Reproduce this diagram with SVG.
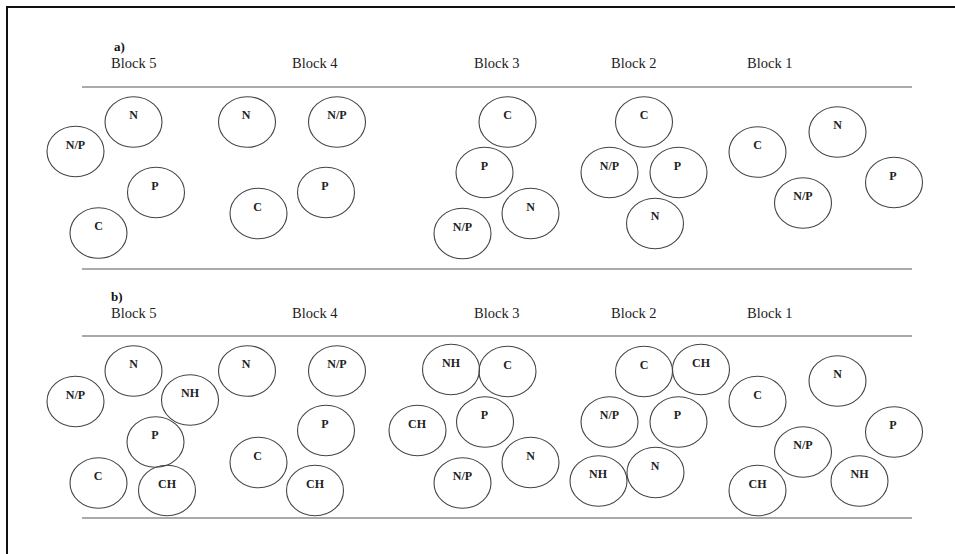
<svg xmlns="http://www.w3.org/2000/svg" width="955" height="554" viewBox="0 0 955 554">
<style>
.frame{stroke:#111;stroke-width:2;fill:none}
.rule{stroke:#aaa;stroke-width:1.8;fill:none}
.hd{font-family:"Liberation Serif","Times New Roman",serif;font-size:14.5px;fill:#222}
.pl{font-family:"Liberation Serif","Times New Roman",serif;font-size:13px;font-weight:bold;fill:#111}
ellipse{fill:none;stroke:#444;stroke-width:1.1}
.lb{font-family:"Liberation Serif","Times New Roman",serif;font-size:12px;fill:#222;text-anchor:middle;font-weight:bold}
</style>
<rect width="955" height="554" fill="#fff"/>
<g id="frame">
<line class="frame" x1="6" y1="7" x2="955" y2="7"/>
<line class="frame" x1="7" y1="6" x2="7" y2="554"/>
</g>
<g id="rules">
<line class="rule" x1="82" y1="87" x2="912" y2="87"/>
<line class="rule" x1="82" y1="269" x2="912" y2="269"/>
<line class="rule" x1="82" y1="336" x2="912" y2="336"/>
<line class="rule" x1="82" y1="518" x2="912" y2="518"/>
</g>
<g id="headings">
<text class="pl" x="114" y="51">a)</text>
<text class="hd" x="111" y="68">Block 5</text>
<text class="hd" x="292" y="68">Block 4</text>
<text class="hd" x="474" y="68">Block 3</text>
<text class="hd" x="611" y="68">Block 2</text>
<text class="hd" x="747" y="68">Block 1</text>
<text class="pl" x="111" y="301">b)</text>
<text class="hd" x="111" y="318">Block 5</text>
<text class="hd" x="292" y="318">Block 4</text>
<text class="hd" x="474" y="318">Block 3</text>
<text class="hd" x="611" y="318">Block 2</text>
<text class="hd" x="747" y="318">Block 1</text>
</g>
<g id="a">
<g id="a5-N"><ellipse cx="133.5" cy="122" rx="28.5" ry="25.3"/><text class="lb" x="133.5" y="119">N</text></g>
<g id="a5-NP"><ellipse cx="75.5" cy="151.5" rx="28.5" ry="25.3"/><text class="lb" x="75.5" y="149">N/P</text></g>
<g id="a5-P"><ellipse cx="156" cy="192.5" rx="28.5" ry="25.3"/><text class="lb" x="155" y="189.5">P</text></g>
<g id="a5-C"><ellipse cx="98.5" cy="233" rx="28.5" ry="25.3"/><text class="lb" x="98.5" y="230">C</text></g>
<g id="a4-N"><ellipse cx="247" cy="122" rx="28.5" ry="25.3"/><text class="lb" x="246" y="119">N</text></g>
<g id="a4-NP"><ellipse cx="337" cy="122" rx="28.5" ry="25.3"/><text class="lb" x="337" y="119">N/P</text></g>
<g id="a4-P"><ellipse cx="326" cy="192.5" rx="28.5" ry="25.3"/><text class="lb" x="325" y="189.5">P</text></g>
<g id="a4-C"><ellipse cx="258.5" cy="213.5" rx="28.5" ry="25.3"/><text class="lb" x="257.5" y="210.5">C</text></g>
<g id="a3-C"><ellipse cx="507.5" cy="122" rx="28.5" ry="25.3"/><text class="lb" x="507.5" y="119">C</text></g>
<g id="a3-P"><ellipse cx="484.5" cy="172.5" rx="28.5" ry="25.3"/><text class="lb" x="484.5" y="169.5">P</text></g>
<g id="a3-N"><ellipse cx="530.5" cy="213.5" rx="28.5" ry="25.3"/><text class="lb" x="530.5" y="210.5">N</text></g>
<g id="a3-NP"><ellipse cx="462.5" cy="233.5" rx="28.5" ry="25.3"/><text class="lb" x="462.5" y="230.5">N/P</text></g>
<g id="a2-C"><ellipse cx="644" cy="122" rx="28.5" ry="25.3"/><text class="lb" x="644" y="119">C</text></g>
<g id="a2-NP"><ellipse cx="609.5" cy="172.5" rx="28.5" ry="25.3"/><text class="lb" x="609.5" y="169.5">N/P</text></g>
<g id="a2-P"><ellipse cx="678.5" cy="172.5" rx="28.5" ry="25.3"/><text class="lb" x="677.5" y="169.5">P</text></g>
<g id="a2-N"><ellipse cx="655" cy="223.5" rx="28.5" ry="25.3"/><text class="lb" x="655" y="220">N</text></g>
<g id="a1-C"><ellipse cx="757.5" cy="152" rx="28.5" ry="25.3"/><text class="lb" x="757.5" y="149">C</text></g>
<g id="a1-N"><ellipse cx="837.5" cy="132" rx="28.5" ry="25.3"/><text class="lb" x="837.5" y="129">N</text></g>
<g id="a1-NP"><ellipse cx="803" cy="203" rx="28.5" ry="25.3"/><text class="lb" x="803" y="200">N/P</text></g>
<g id="a1-P"><ellipse cx="894" cy="182.5" rx="28.5" ry="25.3"/><text class="lb" x="893" y="179.5">P</text></g>
</g>
<g id="b">
<g id="b5-N"><ellipse cx="133.5" cy="371" rx="28.5" ry="25.3"/><text class="lb" x="133.5" y="368">N</text></g>
<g id="b5-NP"><ellipse cx="75.5" cy="401.5" rx="28.5" ry="25.3"/><text class="lb" x="75.5" y="398.5">N/P</text></g>
<g id="b5-NH"><ellipse cx="190" cy="400" rx="28.5" ry="25.3"/><text class="lb" x="190" y="397">NH</text></g>
<g id="b5-P"><ellipse cx="155.5" cy="442" rx="28.5" ry="25.3"/><text class="lb" x="155" y="439">P</text></g>
<g id="b5-C"><ellipse cx="98.5" cy="483" rx="28.5" ry="25.3"/><text class="lb" x="98" y="480">C</text></g>
<g id="b5-CH"><ellipse cx="167" cy="490.5" rx="28.5" ry="25.3"/><text class="lb" x="167" y="487.5">CH</text></g>
<g id="b4-N"><ellipse cx="247" cy="371" rx="28.5" ry="25.3"/><text class="lb" x="246" y="368">N</text></g>
<g id="b4-NP"><ellipse cx="337" cy="371" rx="28.5" ry="25.3"/><text class="lb" x="337" y="368">N/P</text></g>
<g id="b4-P"><ellipse cx="326" cy="430.5" rx="28.5" ry="25.3"/><text class="lb" x="325" y="427.5">P</text></g>
<g id="b4-C"><ellipse cx="258.5" cy="462.5" rx="28.5" ry="25.3"/><text class="lb" x="257.5" y="459.5">C</text></g>
<g id="b4-CH"><ellipse cx="315" cy="490.5" rx="28.5" ry="25.3"/><text class="lb" x="315" y="487.5">CH</text></g>
<g id="b3-NH"><ellipse cx="451" cy="369.5" rx="28.5" ry="25.3"/><text class="lb" x="451" y="366.5">NH</text></g>
<g id="b3-C"><ellipse cx="507.5" cy="371.5" rx="28.5" ry="25.3"/><text class="lb" x="507.5" y="368.5">C</text></g>
<g id="b3-CH"><ellipse cx="417.5" cy="430.5" rx="28.5" ry="25.3"/><text class="lb" x="417" y="427.5">CH</text></g>
<g id="b3-P"><ellipse cx="485" cy="422" rx="28.5" ry="25.3"/><text class="lb" x="484.5" y="419">P</text></g>
<g id="b3-N"><ellipse cx="530.5" cy="462.5" rx="28.5" ry="25.3"/><text class="lb" x="530.5" y="459.5">N</text></g>
<g id="b3-NP"><ellipse cx="462.5" cy="483" rx="28.5" ry="25.3"/><text class="lb" x="462.5" y="480">N/P</text></g>
<g id="b2-C"><ellipse cx="644" cy="371.5" rx="28.5" ry="25.3"/><text class="lb" x="644" y="368.5">C</text></g>
<g id="b2-CH"><ellipse cx="701" cy="369.5" rx="28.5" ry="25.3"/><text class="lb" x="701" y="366.5">CH</text></g>
<g id="b2-NP"><ellipse cx="609.5" cy="422" rx="28.5" ry="25.3"/><text class="lb" x="609.5" y="419">N/P</text></g>
<g id="b2-P"><ellipse cx="678.5" cy="422" rx="28.5" ry="25.3"/><text class="lb" x="677.5" y="419">P</text></g>
<g id="b2-NH"><ellipse cx="598.5" cy="481" rx="28.5" ry="25.3"/><text class="lb" x="598" y="478">NH</text></g>
<g id="b2-N"><ellipse cx="655.5" cy="472.5" rx="28.5" ry="25.3"/><text class="lb" x="655" y="469.5">N</text></g>
<g id="b1-C"><ellipse cx="757.5" cy="401.5" rx="28.5" ry="25.3"/><text class="lb" x="757.5" y="398.5">C</text></g>
<g id="b1-N"><ellipse cx="837.5" cy="381" rx="28.5" ry="25.3"/><text class="lb" x="837.5" y="378">N</text></g>
<g id="b1-P"><ellipse cx="894" cy="432" rx="28.5" ry="25.3"/><text class="lb" x="893" y="429">P</text></g>
<g id="b1-NP"><ellipse cx="803" cy="452" rx="28.5" ry="25.3"/><text class="lb" x="803" y="449">N/P</text></g>
<g id="b1-NH"><ellipse cx="859.5" cy="481" rx="28.5" ry="25.3"/><text class="lb" x="859.5" y="478">NH</text></g>
<g id="b1-CH"><ellipse cx="757.5" cy="490.5" rx="28.5" ry="25.3"/><text class="lb" x="757.5" y="487.5">CH</text></g>
</g>
</svg>
